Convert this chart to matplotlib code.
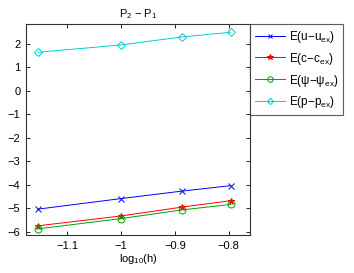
import matplotlib
matplotlib.use("Agg")
import matplotlib.pyplot as plt
import numpy as np

plt.rcParams['font.family'] = ['Liberation Sans', 'DejaVu Sans']
plt.rcParams['mathtext.fontset'] = 'custom'
plt.rcParams['mathtext.rm'] = 'Liberation Sans'
plt.rcParams['mathtext.it'] = 'Liberation Sans'
plt.rcParams['mathtext.bf'] = 'Liberation Sans:bold'

log_h = [-1.155, -1.0, -0.886, -0.796]
err_u = [-5.03, -4.58, -4.26, -4.03]
err_c = [-5.74, -5.32, -4.94, -4.67]
err_psi = [-5.87, -5.43, -5.06, -4.83]
err_p = [1.645, 1.96, 2.30, 2.50]
labels = [r'E(u$-$u$_{\mathrm{ex}}$)', r'E(c$-$c$_{\mathrm{ex}}$)',
          r'E($\mathrm{\psi}$$-$$\mathrm{\psi}_{\mathrm{ex}}$)', r'E(p$-$p$_{\mathrm{ex}}$)']
xticks = [-1.1, -1.0, -0.9, -0.8]
xticklabels = ['\u22121.1', '\u22121', '\u22120.9', '\u22120.8']
yticks = [-6, -5, -4, -3, -2, -1, 0, 1, 2]

fig = plt.figure(figsize=(3.54, 2.73), dpi=100)
ax = fig.add_axes([26/354, 1 - 235/273, 224/354, 211/273])

ax.plot(log_h, err_u, color='#0000ff', marker='x', ms=4, lw=0.7, mew=0.7, label=labels[0])
ax.plot(log_h, err_c, color='#ff0000', marker='*', ms=5, lw=0.7, mew=0.7, label=labels[1])
ax.plot(log_h, err_psi, color='#00a000', marker='o', ms=5, lw=0.7, mew=0.7, mfc='none', label=labels[2])
ax.plot(log_h, err_p, color='#00d0d0', marker='D', ms=4, lw=0.7, mew=0.7, mfc='none', label=labels[3])

ax.set_xlim(-1.177, -0.76)
ax.set_ylim(-6.13, 2.85)
ax.set_xticks(xticks)
ax.set_xticklabels(xticklabels)
ax.set_yticks(yticks)
ax.set_yticklabels([str(v).replace('-', '\u2212') for v in yticks])
ax.tick_params(direction='in', length=3, width=0.6, labelsize=8, pad=4, top=True, right=True)
for s in ax.spines.values():
    s.set_linewidth(0.8)
    s.set_color('#333333')

ax.set_xlabel(r'log$_{10}$(h)', fontsize=8, labelpad=1)
ax.set_title('P$_2$ \u2212 P$_1$', fontsize=8, pad=5)

leg = ax.legend(loc='upper left', bbox_to_anchor=(1.0, 1.0), fontsize=8.5, frameon=True,
                fancybox=False, edgecolor='#333333', borderaxespad=0, handlelength=2.6,
                labelspacing=0.5, borderpad=0.4, handletextpad=0.3, markerscale=0.8)
leg.get_frame().set_linewidth(0.8)

fig.savefig('out.png', dpi=100)
